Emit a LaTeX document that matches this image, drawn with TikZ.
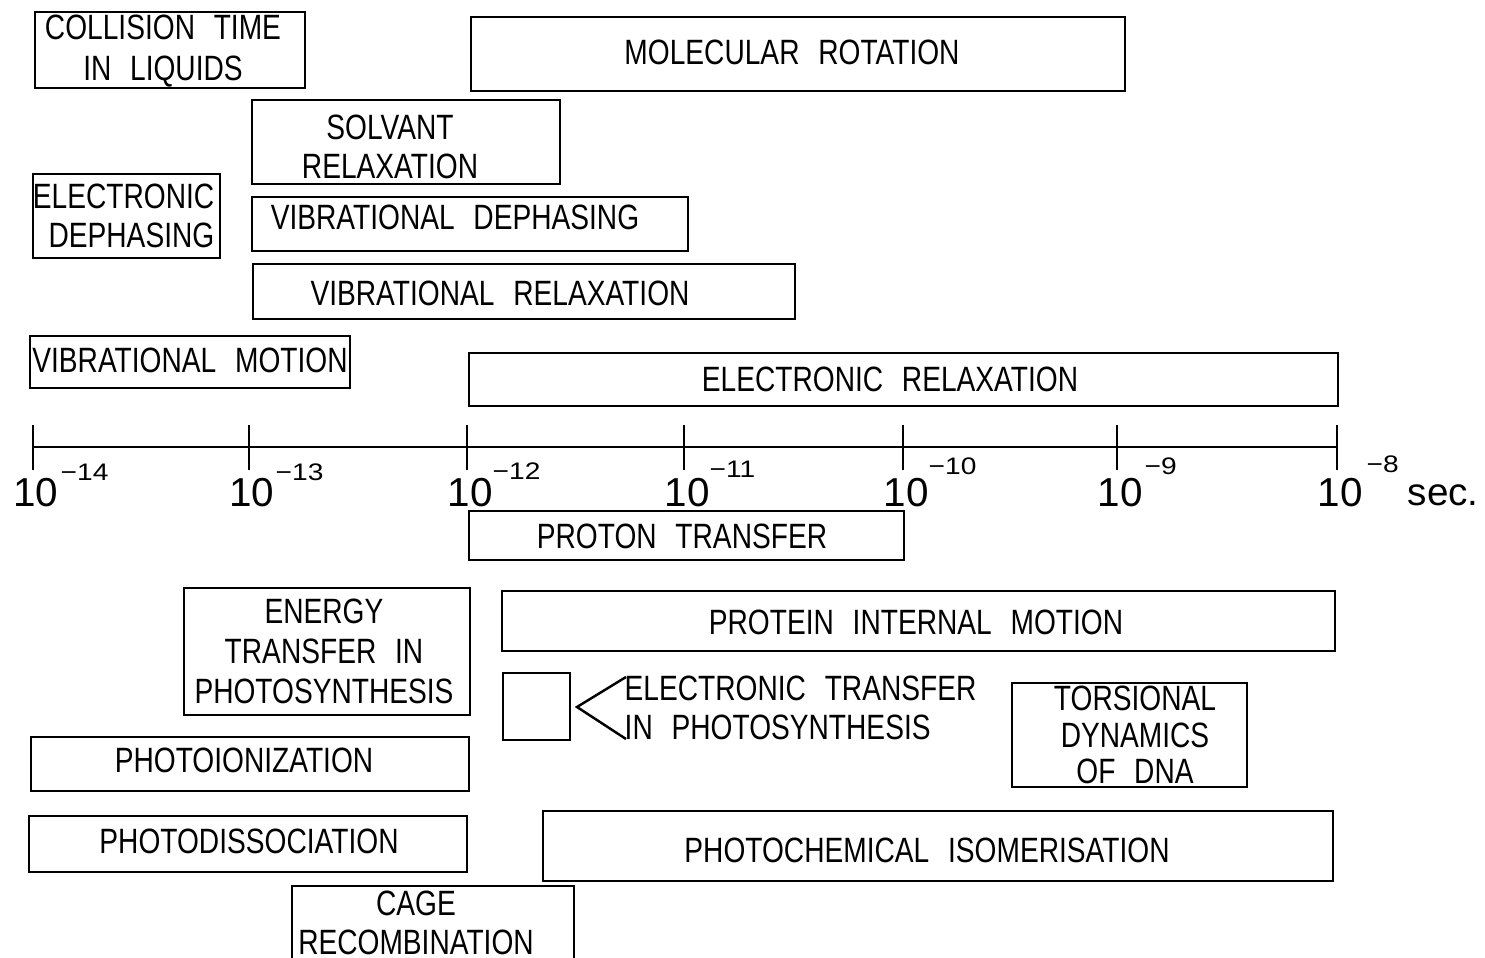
\documentclass[tikz,border=0pt]{standalone}
\usepackage{fontspec}
\setmainfont{Liberation Sans}[FakeStretch=0.8, WordSpace=2.4]
\newfontfamily\axisfont{Liberation Sans}
\usetikzlibrary{fit}
\begin{document}
\begin{tikzpicture}[x=0.01cm,y=-0.01cm,
  box/.style={draw, line width=0.7pt, inner sep=0pt},
  txt/.style={inner sep=0pt, font=\fontsize{10}{11}\selectfont, align=center},
  tick/.style={line width=0.7pt},
  big/.style={inner sep=0pt, font=\axisfont\fontsize{11.5}{14}\selectfont},
  expo/.style={inner sep=0pt, font=\axisfont\fontsize{8}{9}\selectfont}]
\useasboundingbox (0,0) rectangle (1485,958);
\clip (0,0) rectangle (1485,958);
% boxes
\node[box, fit={(35,12) (305,88)}] (colt) {};
\node[txt, font=\fontsize{10}{11.6}\selectfont] at (163,51) {COLLISION TIME\\IN LIQUIDS};
\node[box, fit={(471,17) (1125,91)}] (molrot) {};
\node[txt] at (792,52) {MOLECULAR ROTATION};
\node[box, fit={(252,100) (560,184)}] (solv) {};
\node[txt] at (390,147) {SOLVANT\\RELAXATION};
\node[box, fit={(33,174) (220,258)}] (eldeph) {};
\node[txt, align=right, anchor=east] at (215,216) {ELECTRONIC\\DEPHASING};
\node[box, fit={(252,197) (688,251)}] (vibdeph) {};
\node[txt] at (455,217) {VIBRATIONAL DEPHASING};
\node[box, fit={(253,264) (795,319)}] (vibrel) {};
\node[txt] at (500,293) {VIBRATIONAL RELAXATION};
\node[box, fit={(30,336) (350,388)}] (vibmot) {};
\node[txt] at (190,360) {VIBRATIONAL MOTION};
\node[box, fit={(469,353) (1338,406)}] (elrel) {};
\node[txt] at (890,379) {ELECTRONIC RELAXATION};
% axis
\coordinate (t0) at (33,447);
\coordinate (t6) at (1337,447);
\draw[tick] (t0) -- (t6);
\foreach \x/\e/\o/\b in {33/{−14}/27/480, 249/{−13}/26/480, 467/{−12}/25/479, 684/{−11}/25/478, 903/{−10}/25/475, 1117/{−9}/27/475, 1337/{−8}/29/472}{
  \draw[tick] (\x,425) -- (\x,470);
  \node[big, anchor=base] at (\x+3,506) {10};
  \node[expo, anchor=base west] at (\x+\o,\b) {\scalebox{1}[0.85]{\e}};
}
\node[inner sep=0pt, font=\axisfont\fontsize{11}{13}\selectfont, anchor=base west] (sec) at (1407,505) {sec.};
% lower boxes
\node[box, fit={(469,511) (904,560)}] (proton) {};
\node[txt] at (682,536) {PROTON TRANSFER};
\node[box, fit={(184,588) (470,715)}] (energy) {};
\node[txt, font=\fontsize{10}{11.4}\selectfont] at (324,651) {ENERGY\\TRANSFER IN\\PHOTOSYNTHESIS};
\node[box, fit={(502,591) (1335,651)}] (protein) {};
\node[txt] at (916,622) {PROTEIN INTERNAL MOTION};
\node[box, fit={(503,673) (570,740)}] (small) {};
\node[txt, align=left, anchor=west] (eltr) at (624,708) {ELECTRONIC TRANSFER\\IN PHOTOSYNTHESIS};
\coordinate (v) at (577,707);
\draw[line width=0.7pt] (626,677) -- (v) -- (626,739);
\node[box, fit={(1012,683) (1247,787)}] (dna) {};
\node[txt, font=\fontsize{10}{10.4}\selectfont] at (1135,735) {TORSIONAL\\DYNAMICS\\OF DNA};
\node[box, fit={(31,737) (469,791)}] (photoion) {};
\node[txt] at (244,760) {PHOTOIONIZATION};
\node[box, fit={(29,816) (467,872)}] (photodis) {};
\node[txt] at (249,841) {PHOTODISSOCIATION};
\node[box, fit={(543,811) (1333,881)}] (photochem) {};
\node[txt] at (927,850) {PHOTOCHEMICAL ISOMERISATION};
\node[box, fit={(292,886) (574,985)}] (cage) {};
\node[txt] at (416,923) {CAGE\\RECOMBINATION};
\end{tikzpicture}
\end{document}
